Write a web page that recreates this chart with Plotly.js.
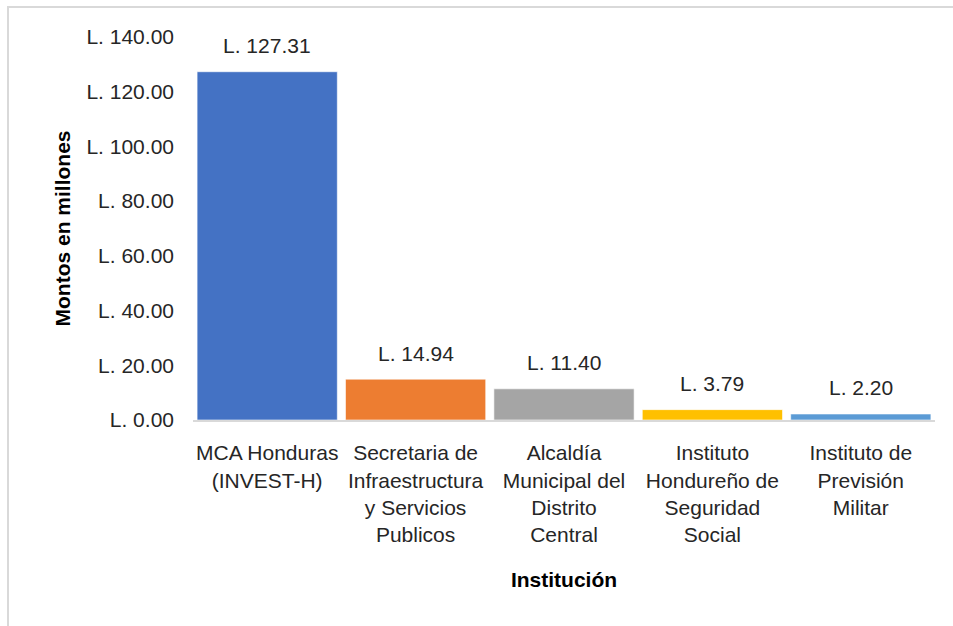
<!DOCTYPE html>
<html>
<head>
<meta charset="utf-8">
<script src="https://cdn.plot.ly/plotly-3.0.1.min.js"></script>
<style>
  html, body { margin: 0; padding: 0; background: #fff; }
  #wrap { position: relative; width: 953px; height: 626px; overflow: hidden; }
  #chart { position: absolute; left: 0; top: 0; width: 953px; height: 626px; }
  #frame { position: absolute; left: 7px; top: 6px; width: 960px; height: 640px;
           border-left: 2px solid #d9d9d9; border-top: 2px solid #d9d9d9; pointer-events: none; }
</style>
</head>
<body>
<div id="wrap">
  <div id="chart"></div>
  <div id="frame"></div>
</div>
<script>
const categories = [
  "MCA Honduras<br>(INVEST-H)",
  "Secretaria de<br>Infraestructura<br>y Servicios<br>Publicos",
  "Alcaldía<br>Municipal del<br>Distrito<br>Central",
  "Instituto<br>Hondureño de<br>Seguridad<br>Social",
  "Instituto de<br>Previsión<br>Militar"
];
const montos = [127.31, 14.94, 11.40, 3.79, 2.20];
const colores = ["#4472C4", "#ED7D31", "#A5A5A5", "#FFC000", "#5B9BD5"];
const yTicks = [0, 20, 40, 60, 80, 100, 120, 140];
const yTickText = yTicks.map(v => "L. " + v.toFixed(2));

const FONT = "Liberation Sans, Arial, sans-serif";
const TXT = "#262626";
const FS = 21;

const trace = {
  type: "bar",
  x: categories,
  y: montos,
  marker: { color: colores, line: { color: "rgba(255,255,255,0.6)", width: 1 } },
  hoverinfo: "skip"
};

const annotations = montos.map((v, i) => ({
  x: categories[i], y: v, xref: "x", yref: "y",
  text: "L. " + v.toFixed(2),
  showarrow: false, yanchor: "middle", yshift: 26,
  font: { family: FONT, size: FS, color: TXT }
}));

const layout = {
  width: 953, height: 626,
  margin: { l: 193, r: 18, t: 37, b: 206 },
  paper_bgcolor: "#fff", plot_bgcolor: "#fff",
  showlegend: false,
  bargap: 0.055,
  font: { family: FONT, size: FS, color: TXT },
  xaxis: {
    type: "category",
    showline: true, linecolor: "#d9d9d9", linewidth: 2,
    ticks: "", showgrid: false, zeroline: false,
    tickfont: { family: FONT, size: FS, color: TXT },
    ticklabelstandoff: 13,
    title: { text: "<b>Institución</b>", font: { family: FONT, size: FS, color: "#000" }, standoff: 27 },
    automargin: false
  },
  yaxis: {
    range: [0, 140], tickmode: "array", tickvals: yTicks, ticktext: yTickText,
    showline: false, showgrid: false, zeroline: false, ticks: "",
    tickfont: { family: FONT, size: FS, color: TXT },
    ticklabelstandoff: 18,
    title: { text: "<b>Montos en millones</b>", font: { family: FONT, size: FS, color: "#000" }, standoff: 10 },
    automargin: false
  },
  annotations: annotations
};

Plotly.newPlot("chart", [trace], layout, { displayModeBar: false, staticPlot: true });
</script>
</body>
</html>
